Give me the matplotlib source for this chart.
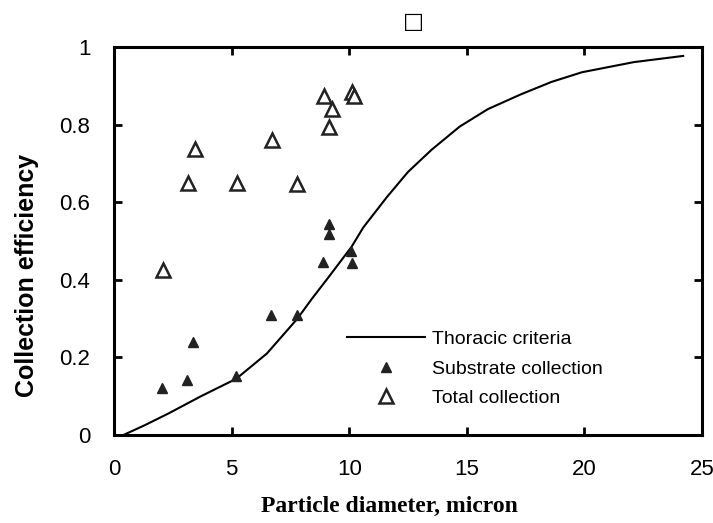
import matplotlib
matplotlib.use("Agg")
import matplotlib.pyplot as plt

# Thoracic criteria curve
thoracic_x = [0.4, 1.3, 2.3, 3.7, 5.2, 6.5, 7.8, 8.4, 9.1, 10.1, 10.6, 11.6, 12.5,
              13.5, 14.7, 15.9, 17.3, 18.6, 19.9, 22.1, 24.2]
thoracic_y = [0.0, 0.025, 0.055, 0.10, 0.145, 0.21, 0.30, 0.35, 0.405, 0.485, 0.535,
              0.613, 0.678, 0.735, 0.795, 0.84, 0.878, 0.91, 0.935, 0.961, 0.977]

# Substrate collection (filled triangles)
substrate_x = [2.05, 3.1, 3.37, 5.2, 6.69, 7.76, 8.9, 9.12, 9.16, 10.06, 10.14]
substrate_y = [0.122, 0.143, 0.239, 0.153, 0.309, 0.309, 0.447, 0.519, 0.545, 0.475, 0.444]

# Total collection (open triangles)
total_x = [2.09, 3.15, 3.45, 5.24, 6.73, 7.8, 8.91, 9.12, 9.25, 10.1, 10.2]
total_y = [0.426, 0.65, 0.738, 0.65, 0.761, 0.647, 0.873, 0.795, 0.839, 0.885, 0.875]

x_ticks = [0, 5, 10, 15, 20, 25]
y_ticks = [0, 0.2, 0.4, 0.6, 0.8, 1.0]
y_tick_labels = ["0", "0.2", "0.4", "0.6", "0.8", "1"]

fig = plt.figure(figsize=(7.13, 5.23), dpi=100)
ax = fig.add_axes([114 / 713, 1 - 435 / 523, 588 / 713, 388 / 523])

ax.plot(thoracic_x, thoracic_y, color="black", linewidth=1.5, label="Thoracic criteria")
ax.plot(substrate_x, substrate_y, linestyle="none", marker="^", markersize=7.5,
        color="#222222", label="Substrate collection")
ax.plot(total_x, total_y, linestyle="none", marker="^", markersize=10,
        markerfacecolor="white", markeredgecolor="#222222", markeredgewidth=1.8,
        label="Total collection")

ax.set_xlim(0, 25)
ax.set_ylim(0, 1)
ax.set_xticks(x_ticks)
ax.set_yticks(y_ticks)
ax.set_yticklabels(y_tick_labels)

for side in ax.spines.values():
    side.set_linewidth(2.2)
ax.tick_params(direction="in", length=6, width=2, top=True, right=True,
               labelsize=16, pad=17)
for lab in ax.get_xticklabels() + ax.get_yticklabels():
    lab.set_fontfamily("Liberation Sans")

ax.set_ylabel("Collection efficiency", fontsize=18, fontweight="bold",
              fontfamily="Liberation Sans")
ax.yaxis.set_label_coords(-0.128, 0.41)
ax.set_xlabel("Particle diameter, micron", fontsize=17, fontweight="bold",
              fontfamily="Liberation Serif")
ax.xaxis.set_label_coords(0.468, -0.158)

ax.set_title("\u25a1", fontsize=16, pad=14, x=(413 - 114) / 588)

ax.legend(loc="upper left", bbox_to_anchor=(0.396, 0.27), frameon=False,
          borderpad=0, borderaxespad=0, handlelength=4.0, handletextpad=0.4,
          labelspacing=0.62, prop={"family": "Liberation Sans", "size": 14})

fig.savefig("out.png", dpi=100)
